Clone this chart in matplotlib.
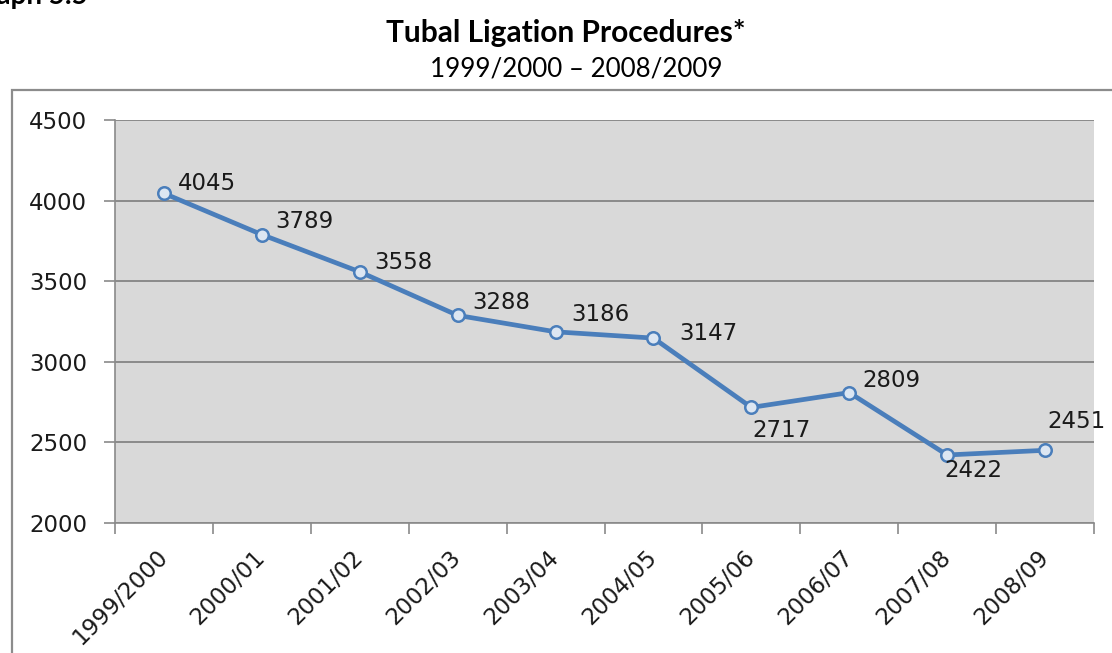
import matplotlib
matplotlib.use("Agg")
import matplotlib.pyplot as plt
from matplotlib.patches import Rectangle

years = ['1999/2000', '2000/01', '2001/02', '2002/03', '2003/04',
         '2004/05', '2005/06', '2006/07', '2007/08', '2008/09']
procedures = [4045, 3789, 3558, 3288, 3186, 3147, 2717, 2809, 2422, 2451]
y_ticks = [2000, 2500, 3000, 3500, 4000, 4500]

# label offsets in pixels (left edge of text, vertical centre) relative to point
label_offsets = [(14, 10), (13, 13), (15, 9), (15, 13), (16, 17),
                 (26, 5), (1, -23), (13, 12), (-3, -16), (2, 29)]

fig = plt.figure(figsize=(11.12, 6.53), dpi=100)
fig.patch.set_facecolor('white')

# outer chart border (cropped on right and bottom)
fig.add_artist(Rectangle((12 / 1112, -0.1), 1.2, 0.1 + 1 - 90 / 653,
                         transform=fig.transFigure, fill=False,
                         edgecolor='#8c8c8c', linewidth=1.6, clip_on=False))

# cropped header from the page above
fig.text(-34 / 1112, 1 - 4 / 653, 'Graph 5.5', fontsize=20, fontweight='bold',
         family='Lato', va='baseline', ha='left')

fig.text(0.509, 1 - 42 / 653, 'Tubal Ligation Procedures*', fontsize=21.5,
         fontweight='bold', family='Lato', ha='center', va='baseline')
fig.text(0.518, 1 - 76 / 653, '1999/2000 \u2013 2008/2009', fontsize=18.7,
         family='Lato', ha='center', va='baseline')

ax = fig.add_axes([115 / 1112, 130 / 653, 979 / 1112, 403 / 653])
ax.set_facecolor('#d9d9d9')

x = list(range(len(years)))
ax.plot(x, procedures, color='#4a7ebb', linewidth=3.4, marker='o',
        markersize=9, markerfacecolor='#dce6f2', markeredgecolor='#4a7ebb',
        markeredgewidth=1.8, zorder=3)

for xi, val, (dx, dy) in zip(x, procedures, label_offsets):
    ax.annotate(str(val), (xi, val), xytext=(dx, dy), textcoords='offset pixels',
                ha='left', va='center', fontsize=16.5, family='DejaVu Sans',
                color='#1a1a1a', annotation_clip=False)

ax.set_xlim(-0.5, len(years) - 0.5)
ax.set_ylim(2000, 4500)
ax.set_yticks(y_ticks)
ax.set_yticklabels([str(v) for v in y_ticks], fontsize=16.5, family='DejaVu Sans',
                   color='#1a1a1a')
ax.yaxis.grid(True, color='#8a8a8a', linewidth=1.4)
ax.set_axisbelow(True)

ax.set_xticks(x)
ax.set_xticklabels(years, rotation=45, ha='right', va='center',
                   rotation_mode='anchor', fontsize=16.5, family='DejaVu Sans',
                   color='#1a1a1a')
ax.set_xticks([i - 0.5 for i in range(len(years) + 1)], minor=True)
ax.tick_params(axis='x', which='major', length=0, pad=22)
ax.tick_params(axis='x', which='minor', length=8, color='#8a8a8a', width=1.2)
ax.tick_params(axis='y', length=8, color='#8a8a8a', width=1.2, pad=12)

for side in ['top', 'right']:
    ax.spines[side].set_visible(False)
for side in ['left', 'bottom']:
    ax.spines[side].set_color('#8a8a8a')
    ax.spines[side].set_linewidth(1.2)

fig.savefig('out.png', dpi=100)
